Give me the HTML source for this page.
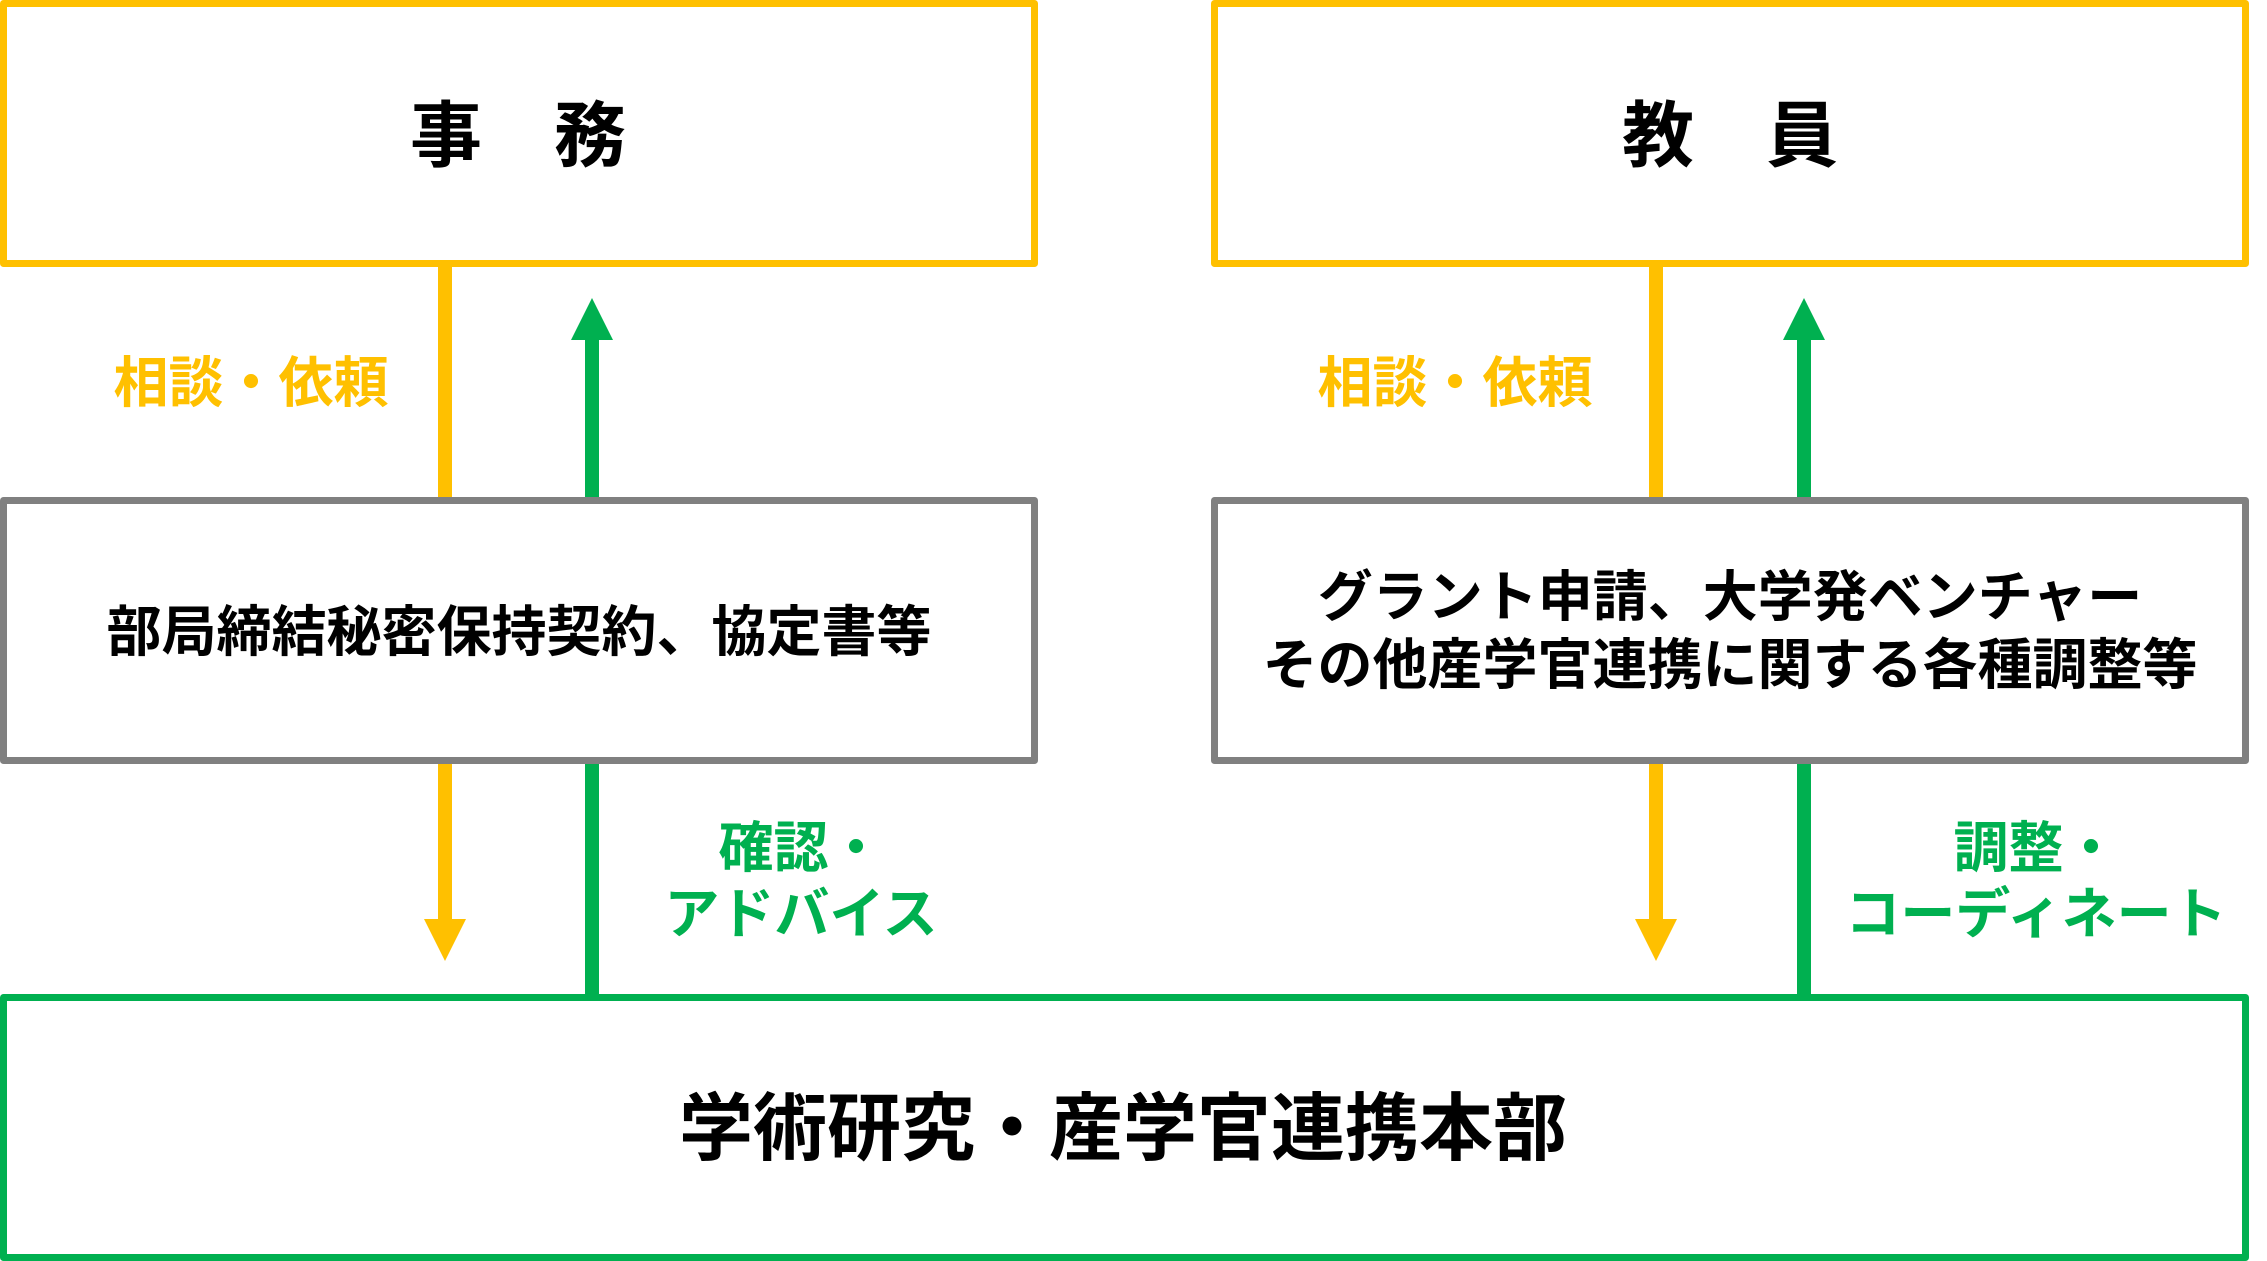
<!DOCTYPE html>
<html lang="ja">
<head>
<meta charset="utf-8">
<style>
  html, body { margin: 0; padding: 0; background: #ffffff; }
  body { width: 2267px; height: 1261px; overflow: hidden; }
  svg { display: block; }
  text {
    font-family: "Liberation Sans", "Noto Sans CJK JP", "Noto Sans CJK SC", sans-serif;
    font-weight: 700;
  }
</style>
</head>
<body>
<svg width="2267" height="1261" viewBox="0 0 2267 1261" xmlns="http://www.w3.org/2000/svg">
  <rect x="0" y="0" width="2267" height="1261" fill="#ffffff"/>

  <!-- connectors left -->
  <rect x="438" y="262" width="14" height="240" fill="#FFC000"/>
  <rect x="438" y="760" width="14" height="162" fill="#FFC000"/>
  <polygon points="424,919 466,919 445,961" fill="#FFC000"/>

  <rect x="585" y="337" width="14" height="165" fill="#00B050"/>
  <polygon points="571,340 613,340 592,298" fill="#00B050"/>
  <rect x="585" y="760" width="14" height="238" fill="#00B050"/>

  <!-- connectors right -->
  <rect x="1649" y="262" width="14" height="240" fill="#FFC000"/>
  <rect x="1649" y="760" width="14" height="162" fill="#FFC000"/>
  <polygon points="1635,919 1677,919 1656,961" fill="#FFC000"/>

  <rect x="1797" y="337" width="14" height="165" fill="#00B050"/>
  <polygon points="1783,340 1825,340 1804,298" fill="#00B050"/>
  <rect x="1797" y="760" width="14" height="238" fill="#00B050"/>

  <!-- boxes -->
  <rect x="3.5" y="3.5" width="1031" height="260" fill="#ffffff" stroke="#FFC000" stroke-width="7" stroke-linejoin="round"/>
  <rect x="1214.5" y="3.5" width="1031" height="260" fill="#ffffff" stroke="#FFC000" stroke-width="7" stroke-linejoin="round"/>

  <rect x="3.5" y="500.5" width="1031" height="260" fill="#ffffff" stroke="#808080" stroke-width="7" stroke-linejoin="round"/>
  <rect x="1214.5" y="500.5" width="1031" height="260" fill="#ffffff" stroke="#808080" stroke-width="7" stroke-linejoin="round"/>

  <rect x="3.5" y="997.5" width="2242" height="260" fill="#ffffff" stroke="#00B050" stroke-width="7" stroke-linejoin="round"/>

  <!-- box texts -->
  <text x="518" y="161" font-size="72" text-anchor="middle" fill="#000">事　務</text>
  <text x="1730" y="161" font-size="72" text-anchor="middle" fill="#000">教　員</text>

  <text x="519" y="651" font-size="55" text-anchor="middle" fill="#000">部局締結秘密保持契約、協定書等</text>

  <text x="1730" y="616" font-size="55" text-anchor="middle" fill="#000">グラント申請、大学発ベンチャー</text>
  <text x="1730" y="684" font-size="55" text-anchor="middle" fill="#000">その他産学官連携に関する各種調整等</text>

  <text x="1123" y="1154" font-size="74" text-anchor="middle" fill="#000">学術研究・産学官連携本部</text>

  <!-- labels -->
  <text x="251" y="402" font-size="55" text-anchor="middle" fill="#FFC000">相談・依頼</text>
  <text x="1455" y="402" font-size="55" text-anchor="middle" fill="#FFC000">相談・依頼</text>

  <text x="801" y="867" font-size="55" text-anchor="middle" fill="#00B050">確認・</text>
  <text x="801" y="933" font-size="55" text-anchor="middle" fill="#00B050">アドバイス</text>

  <text x="2036" y="867" font-size="55" text-anchor="middle" fill="#00B050">調整・</text>
  <text x="2036" y="933" font-size="55" text-anchor="middle" fill="#00B050">コーディネート</text>
</svg>
</body>
</html>
